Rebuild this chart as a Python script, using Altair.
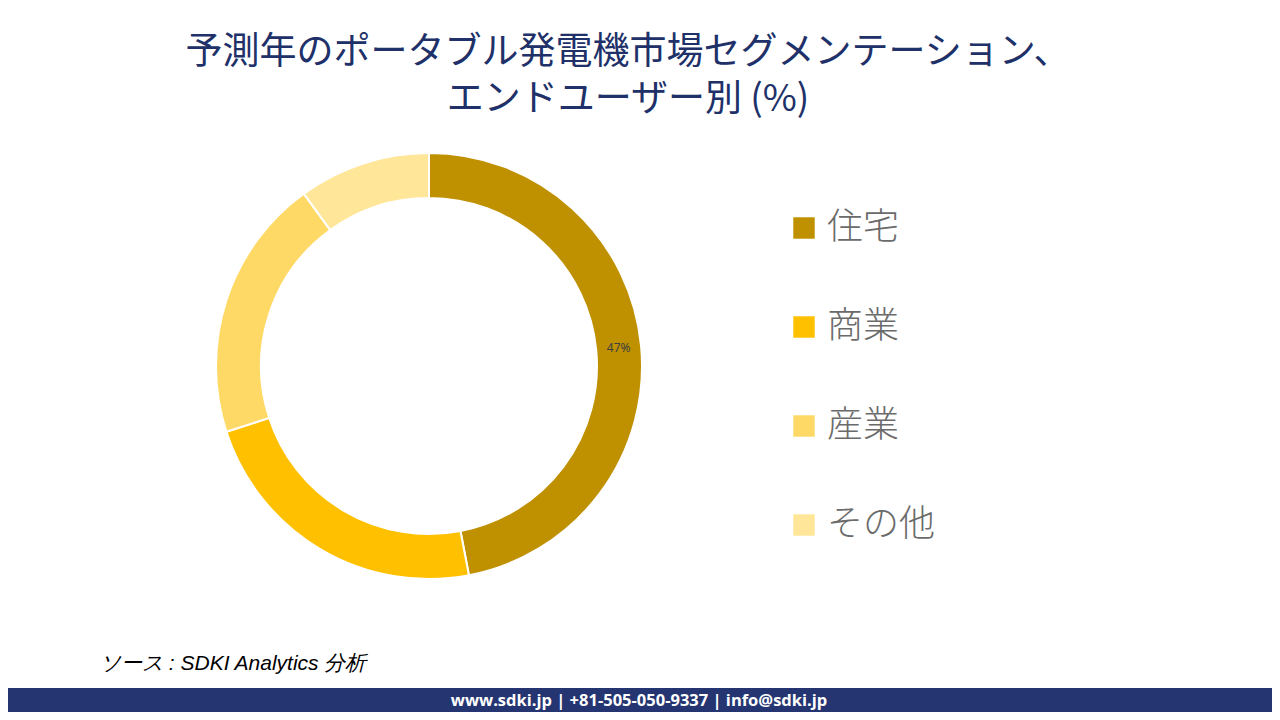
import altair as alt
import pandas as pd

categories = ["住宅", "商業", "産業", "その他"]
shares = [47, 23, 20, 10]
colors = ["#BF9000", "#FFC000", "#FFD966", "#FFE699"]
title_lines = ["予測年のポータブル発電機市場セグメンテーション、", "エンドユーザー別 (%)"]
source_text = ["ソース : SDKI Analytics  分析"]
footer_text = ["www.sdki.jp | +81-505-050-9337 | info@sdki.jp"]
labelled = ["住宅"]

df = pd.DataFrame({
    "cat": categories,
    "share": shares,
    "order": list(range(len(categories))),
    "label": [f"{v}%" if c in labelled else "" for c, v in zip(categories, shares)],
})

W, H = 1264, 704
CX, CY = 421, 358
R_OUT, R_IN = 213, 168

color_scale = alt.Scale(domain=categories, range=colors)

donut = alt.Chart(df).mark_arc(
    outerRadius=R_OUT, innerRadius=R_IN, stroke="white", strokeWidth=2
).encode(
    theta=alt.Theta("share:Q", stack=True),
    order=alt.Order("order:Q"),
    x=alt.value(CX), y=alt.value(CY),
    color=alt.Color(
        "cat:N", scale=color_scale, sort=categories,
        legend=alt.Legend(
            title=None, orient="none", legendX=778, legendY=202,
            symbolType="square", symbolSize=460, symbolStrokeWidth=0,
            labelFontSize=36, labelColor="#6B6B6B", labelFont="Noto Sans CJK JP",
            labelFontWeight=300,
            labelOffset=5, rowPadding=63, labelLimit=300,
        ),
    ),
)

labels = alt.Chart(df).mark_text(
    radius=(R_OUT + R_IN) / 2, fontSize=12, color="#404040", font="Noto Sans"
).encode(
    theta=alt.Theta("share:Q", stack=True),
    order=alt.Order("order:Q"),
    x=alt.value(CX), y=alt.value(CY),
    text="label:N",
)

title_df = pd.DataFrame({"t": ["\n".join(title_lines)]})
title = alt.Chart(title_df).mark_text(
    fontSize=37, color="#203068", font="Noto Sans CJK JP", align="center",
    baseline="middle", lineBreak="\n", lineHeight=47
).encode(
    x=alt.value(620), y=alt.value(45), text="t:N",
)

source = alt.Chart(pd.DataFrame({"t": source_text})).mark_text(
    fontSize=21, fontStyle="italic", color="#000000", font="Liberation Sans",
    align="left", baseline="middle"
).encode(x=alt.value(92), y=alt.value(656), text="t:N")

bar = alt.Chart(pd.DataFrame({"t": footer_text})).mark_rect(color="#253571").encode(
    x=alt.value(0), x2=alt.value(W), y=alt.value(680), y2=alt.value(H)
)

footer = alt.Chart(pd.DataFrame({"t": footer_text})).mark_text(
    fontSize=16.5, fontWeight="bold", color="white", font="Open Sans",
    align="center", baseline="middle"
).encode(x=alt.value(631), y=alt.value(693), text="t:N")

chart = alt.layer(bar, donut, labels, title, source, footer).properties(
    width=W, height=H, padding=0, background="white",
    autosize=alt.AutoSizeParams(type="none"),
).configure_view(stroke=None)

chart.save("out.html", embed_options={"renderer": "svg", "actions": False})
